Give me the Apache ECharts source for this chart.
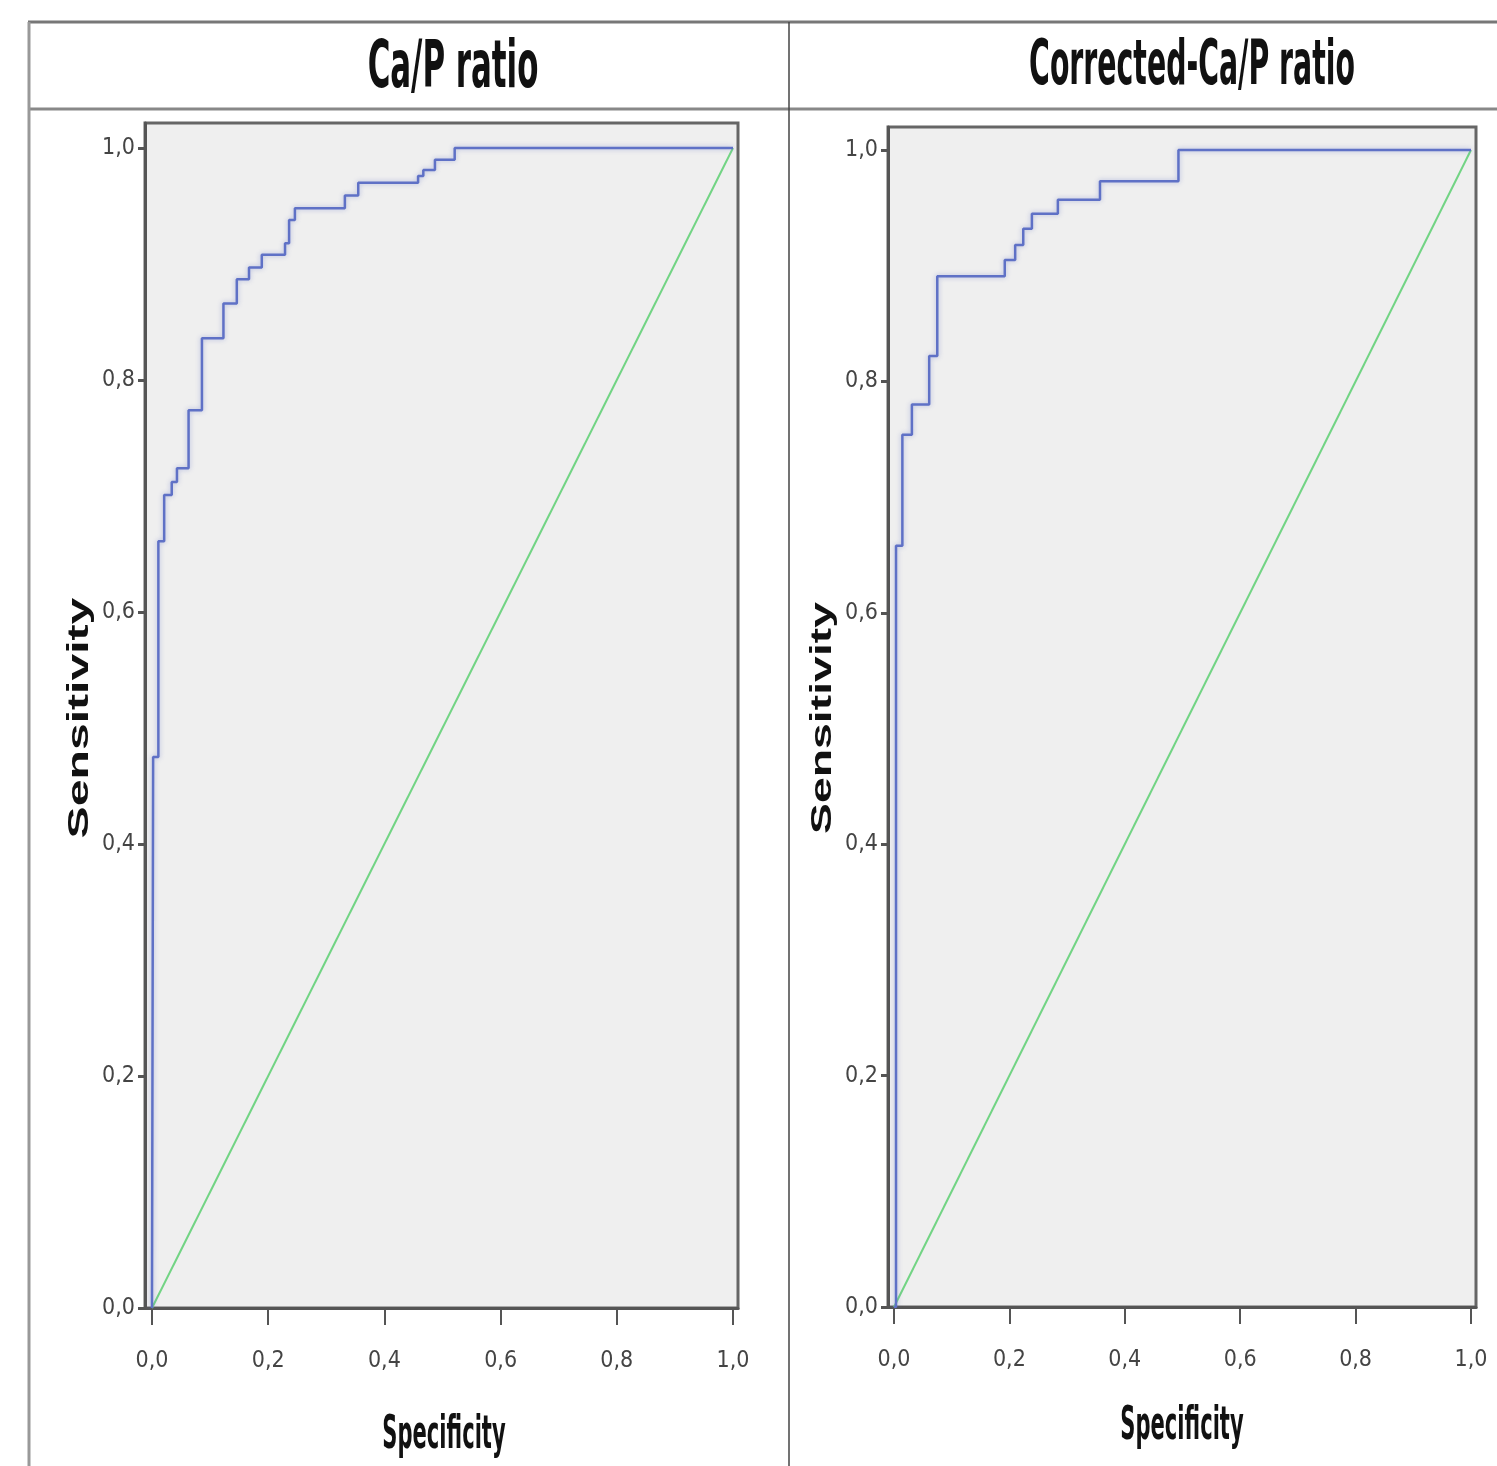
<!DOCTYPE html>
<html>
<head>
<meta charset="utf-8">
<title>ROC curves</title>
<script src="https://cdn.jsdelivr.net/npm/echarts@6/dist/echarts.min.js"></script>
<style>
  html, body { margin: 0; padding: 0; background: #ffffff; }
  #roc { width: 1497px; height: 1466px; }
</style>
</head>
<body>
<div id="roc"></div>
<script>
// panel titles and axis ticks
var panelTitles = ['Ca/P ratio', 'Corrected-Ca/P ratio'];
var tickValues = [0, 0.2, 0.4, 0.6, 0.8, 1.0];

// Ca/P ratio ROC (corner points, x = 1 - specificity)
var capFpr = [0, 0.002, 0.011, 0.021, 0.034, 0.043, 0.063, 0.086, 0.123, 0.146, 0.167, 0.189, 0.229, 0.236, 0.246, 0.332, 0.355, 0.458, 0.467, 0.487, 0.521, 1.0];
var capTpr = [0, 0.475, 0.661, 0.701, 0.712, 0.724, 0.774, 0.836, 0.866, 0.887, 0.897, 0.908, 0.918, 0.938, 0.948, 0.959, 0.970, 0.976, 0.981, 0.990, 1.0, 1.0];

// Corrected-Ca/P ratio ROC
var corrFpr = [0, 0.0035, 0.0145, 0.031, 0.061, 0.075, 0.192, 0.210, 0.224, 0.239, 0.284, 0.357, 0.493, 1.0];
var corrTpr = [0, 0.658, 0.754, 0.780, 0.822, 0.891, 0.905, 0.918, 0.932, 0.945, 0.957, 0.973, 1.0, 1.0];

// reference line
var refFpr = [0, 1];
var refTpr = [0, 1];

function pairs(xs, ys) {
    return xs.map(function (x, i) { return [x, ys[i]]; });
}

var narrow = "'Liberation Sans Narrow', 'DejaVu Sans Condensed', 'Liberation Sans', sans-serif";
var wide = "'Liberation Sans', Arial, sans-serif";

function tickLabel(v) {
    return v.toFixed(1).replace('.', ',');
}

function makeX(idx, min, max) {
    return {
        type: 'value', gridIndex: idx, min: min, max: max,
        splitLine: { show: false },
        axisLine: { show: true, onZero: false, lineStyle: { color: '#555', width: 3 } },
        axisTick: { show: true, customValues: tickValues, length: 17, lineStyle: { color: '#555', width: 2 } },
        axisLabel: {
            customValues: tickValues, formatter: tickLabel, margin: 42,
            fontFamily: narrow, fontSize: 23, color: '#444'
        }
    };
}

function makeY(idx, min, max) {
    return {
        type: 'value', gridIndex: idx, min: min, max: max,
        splitLine: { show: false },
        axisLine: { show: true, onZero: false, lineStyle: { color: '#555', width: 3 } },
        axisTick: { show: true, customValues: tickValues, length: 7, lineStyle: { color: '#555', width: 3 } },
        axisLabel: {
            customValues: tickValues, formatter: tickLabel, margin: 10,
            fontFamily: narrow, fontSize: 23, color: '#444'
        }
    };
}

function rocLine(idx, data) {
    return {
        type: 'line', xAxisIndex: idx, yAxisIndex: idx, step: 'end',
        data: data, symbol: 'none', silent: true, z: 3,
        lineStyle: { color: '#5f71c6', width: 2.5, shadowColor: 'rgba(95,113,198,0.45)', shadowBlur: 5 }
    };
}

function diagLine(idx) {
    return {
        type: 'line', xAxisIndex: idx, yAxisIndex: idx,
        data: pairs(refFpr, refTpr), symbol: 'none', silent: true, z: 2,
        lineStyle: { color: '#72d484', width: 2 }
    };
}

function frameLine(x1, y1, x2, y2, w, c) {
    return { type: 'line', silent: true, shape: { x1: x1, y1: y1, x2: x2, y2: y2 }, style: { stroke: c, lineWidth: w } };
}

function scaledText(txt, x, y, font, size, sx, sy, rot) {
    return {
        type: 'text', x: x, y: y, scaleX: sx, scaleY: sy, rotation: rot || 0, silent: true,
        style: {
            text: txt, x: 0, y: 0, align: 'center', verticalAlign: 'middle',
            font: 'bold ' + size + 'px ' + font, fill: '#111'
        }
    };
}

var option = {
    animation: false,
    backgroundColor: '#ffffff',
    grid: [
        { left: 145, top: 123, width: 593, height: 1185, show: true, backgroundColor: '#efefef', borderColor: '#666', borderWidth: 3 },
        { left: 888, top: 127, width: 588, height: 1180, show: true, backgroundColor: '#efefef', borderColor: '#666', borderWidth: 3 }
    ],
    xAxis: [makeX(0, -0.012, 1.0086), makeX(1, -0.0104, 1.0087)],
    yAxis: [makeY(0, 0, 1.0216), makeY(1, 0, 1.0199)],
    series: [
        diagLine(0), rocLine(0, pairs(capFpr, capTpr)),
        diagLine(1), rocLine(1, pairs(corrFpr, corrTpr))
    ],
    graphic: [
        frameLine(28, 22, 1497, 22, 3, '#777'),
        frameLine(28, 109, 1497, 109, 3, '#888'),
        frameLine(29, 22, 29, 1466, 3, '#999'),
        frameLine(789, 22, 789, 1466, 1.5, '#444'),
        scaledText(panelTitles[0], 453, 70, narrow, 44, 0.78, 1.5),
        scaledText(panelTitles[1], 1192, 68, narrow, 42, 0.75, 1.5),
        scaledText('Specificity', 444, 1436, narrow, 30, 0.78, 1.55),
        scaledText('Specificity', 1182, 1427, narrow, 30, 0.78, 1.55),
        scaledText('Sensitivity', 80, 718, wide, 29, 1.66, 1, Math.PI / 2),
        scaledText('Sensitivity', 823, 718, wide, 29, 1.6, 1, Math.PI / 2)
    ]
};

var rocChart = echarts.init(document.getElementById('roc'));
rocChart.setOption(option);
</script>
</body>
</html>
